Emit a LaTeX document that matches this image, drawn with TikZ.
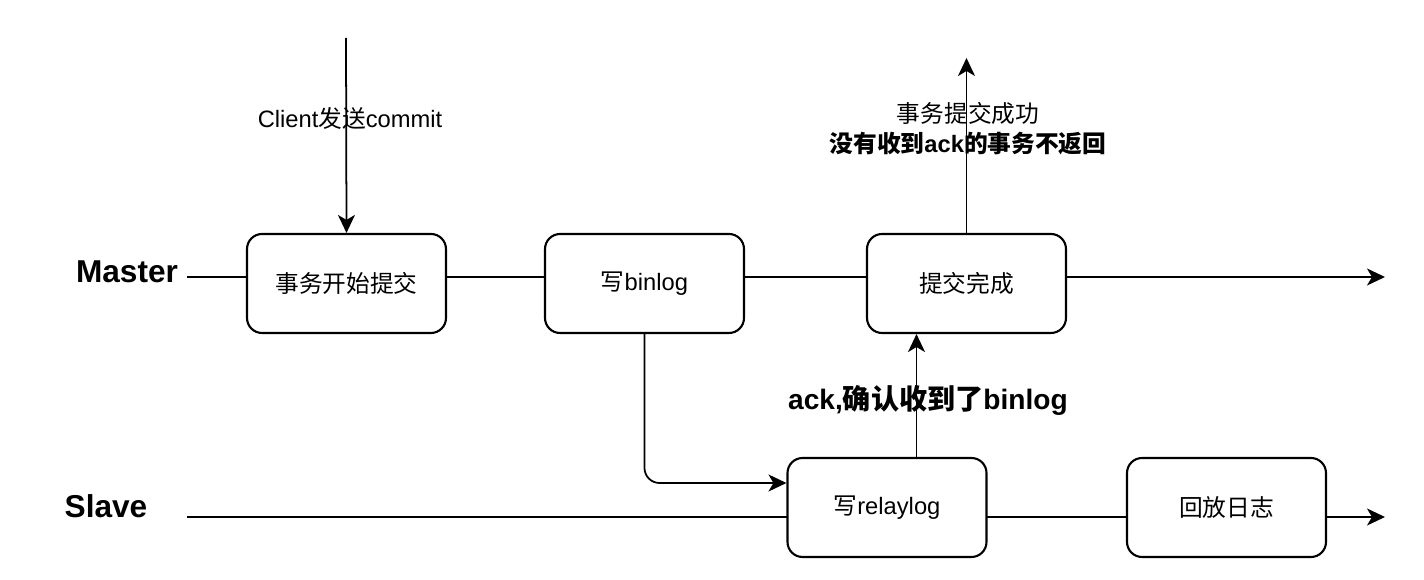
\documentclass[tikz,border=0pt]{standalone}
\usepackage{fontspec}
\setmainfont{Liberation Sans}
\newfontfamily\cjk{Noto Sans CJK SC}
\usetikzlibrary{calc,arrows.meta}
\tikzset{
	line/.style={line width=1pt},
	arr/.style={line width=1pt,-{Stealth[length=0.36cm,width=0.34cm,inset=0.1cm]}},
	stage/.style={draw,line width=1.2pt,fill=white,rounded corners=0.3cm,
		minimum width=3.98cm,minimum height=1.98cm,font=\fontsize{13.5}{16}\selectfont},
	lbl/.style={font=\fontsize{13.5}{17}\selectfont,align=center},
	side/.style={font=\fontsize{18}{21}\selectfont\bfseries}
}

\begin{document}
\begin{tikzpicture}[x=0.02cm,y=-0.02cm]
		%%%%% START %%%%%
		\useasboundingbox (0,0) rectangle (1424,580);
		
		\node[side] (master) at (127,272) {Master};
		\node[side] (slave) at (106,506) {Slave};
		
		\coordinate (mfrom) at (187,277);
		\coordinate (mto) at (1385,277);
		\coordinate (sfrom) at (187,517);
		\coordinate (sto) at (1385,517);
		\draw[arr] (mfrom) -- (mto);
		\draw[arr] (sfrom) -- (sto);
		
		\node[stage] (begin) at (346.5,283.5) {{\cjk 事务开始提交}};
		\node[stage] (binlog) at (644.5,283.5) {{\cjk 写}binlog};
		\node[stage] (done) at (966.5,283.5) {{\cjk 提交完成}};
		\node[stage] (relay) at (887,507.5) {{\cjk 写}relaylog};
		\node[stage] (replay) at (1226.5,507.5) {{\cjk 回放日志}};
		
		\coordinate (client) at (346,38);
		\draw[arr] (client) -- (begin.north);
		\node[lbl] (clientlbl) at (350,118) {Client{\cjk 发送}commit};
		
		\coordinate (reply) at (966.5,58);
		\draw[arr] (done.north) -- (reply);
		\node[lbl] (replylbl) at (968,129) {{\cjk 事务提交成功}\\
			{\bfseries\cjk 没有收到}\textbf{ack}{\bfseries\cjk 的事务不返回}};
		
		\draw[arr,rounded corners=0.3cm] (binlog.south) |- ($(relay.west)+(0,-24.5)$);
		
		\coordinate (ackfoot) at ($(relay.north)+(29.5,0)$);
		\draw[arr] (ackfoot) -- (ackfoot |- done.south);
		\node[font=\fontsize{16}{19}\selectfont\bfseries] (acklbl) at (928,400) {ack,{\cjk 确认收到了}binlog};
		%%%%% END %%%%%
	\end{tikzpicture}
\end{document}
